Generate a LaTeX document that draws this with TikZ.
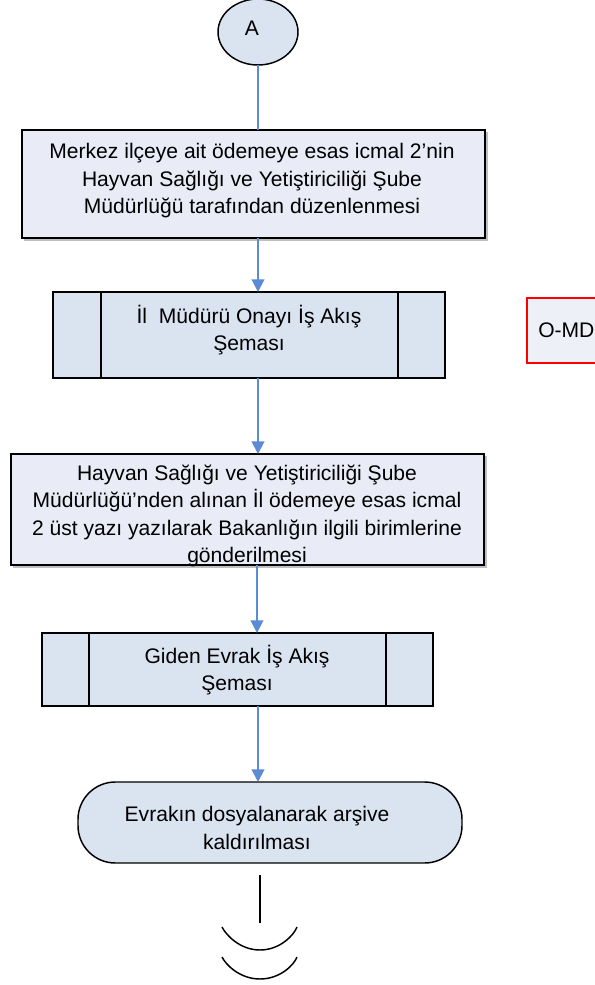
\documentclass[tikz,border=0pt]{standalone}
\usepackage{fontspec}
\setmainfont{Liberation Sans}
\usetikzlibrary{arrows.meta,shapes.geometric}
\definecolor{boxA}{HTML}{E9ECF7}
\definecolor{boxB}{HTML}{DAE3F0}
\definecolor{arrowblue}{HTML}{5B8BD5}
\definecolor{omdfill}{HTML}{EEF0F8}
\tikzset{
  shapebox/.style={draw=black, line width=1.1pt, inner sep=0pt, outer sep=0pt},
  txt/.style={align=center, font=\fontsize{15.8pt}{20.6pt}\selectfont, inner sep=0pt},
  flow/.style={draw=arrowblue, line width=1.5pt, -{Triangle[width=9.5pt,length=9.5pt]}},
  plainflow/.style={draw=arrowblue, line width=1.5pt},
  shadowline/.style={draw=black!25, line width=1.2pt},
}
\begin{document}
\begin{tikzpicture}[x=0.75pt, y=-0.75pt]
\useasboundingbox (0,0) rectangle (594,985);
% A connector
\node[shapebox, ellipse, fill=boxB, minimum width=60pt, minimum height=49.5pt] (A) at (258,32) {};
\node[txt] (Atxt) at (252,28) {A};
% box 1
\draw[shadowline] (487,132) -- (487,240) -- (24,240);
\node[shapebox, fill=boxA, minimum width=347.25pt, minimum height=81pt] (b1) at (253.5,184) {};
\node[txt] (t1) at (252,181) {Merkez ilçeye ait ödemeye esas icmal 2’nin\\Hayvan Sağlığı ve Yetiştiriciliği Şube\\Müdürlüğü tarafından düzenlenmesi};
% box 2 (predefined process)
\node[shapebox, fill=boxB, minimum width=294pt, minimum height=64.5pt] (b2) at (249,335) {};
\draw[line width=1.1pt] (101,292) -- (101,378) (398,292) -- (398,378);
\node[txt] (t2) at (249,330) {İl\ \ Müdürü Onayı İş Akış\\Şeması};
% O-MD box
\node[draw=red, line width=1.6pt, fill=omdfill, minimum width=75pt, minimum height=48.75pt, inner sep=0pt, anchor=north west] (omd) at (526,297) {};
\node[txt, anchor=west] (omdtxt) at (538,330) {O-MD};
% box 3
\draw[shadowline] (486,456) -- (486,567) -- (13,567);
\node[shapebox, fill=boxA, minimum width=354.75pt, minimum height=83.25pt] (b3) at (247.5,509.5) {};
\node[txt] (t3) at (247,516) {Hayvan Sağlığı ve Yetiştiriciliği Şube\\Müdürlüğü’nden alınan İl ödemeye esas icmal\\2 üst yazı yazılarak Bakanlığın ilgili birimlerine\\gönderilmesi};
% box 4 (predefined process)
\node[shapebox, fill=boxB, minimum width=293.25pt, minimum height=54.75pt] (b4) at (237.5,669.5) {};
\draw[line width=1.1pt] (89,633) -- (89,706) (386,633) -- (386,706);
\node[txt] (t4) at (237,670) {Giden Evrak İş Akış\\Şeması};
% terminator
\node[shapebox, fill=boxB, rounded corners=28pt, minimum width=288pt, minimum height=60.75pt] (term) at (270,822.5) {};
\node[txt] (t5) at (257,828) {Evrakın dosyalanarak arşive\\kaldırılması};
% connectors
\draw[plainflow] (A.south) -- (A.south |- b1.north);
\draw[flow] (258,238) -- (258,292);
\draw[flow] (258,378) -- (258,454);
\draw[flow] (257,565) -- (257,633);
\draw[flow] (258,706) -- (258,782);
% off-page end
\coordinate (e1) at (260,875);
\coordinate (e2) at (260,923);
\draw[line width=1.1pt] (e1) -- (e2);
\draw[line width=1.1pt] (222,927) .. controls (226,935) and (240,950) .. (260,950) .. controls (280,950) and (294,935) .. (297,927);
\draw[line width=1.1pt] (222,957) .. controls (226,965) and (240,979) .. (260,979) .. controls (280,979) and (294,965) .. (297,957);
\end{tikzpicture}
\end{document}
